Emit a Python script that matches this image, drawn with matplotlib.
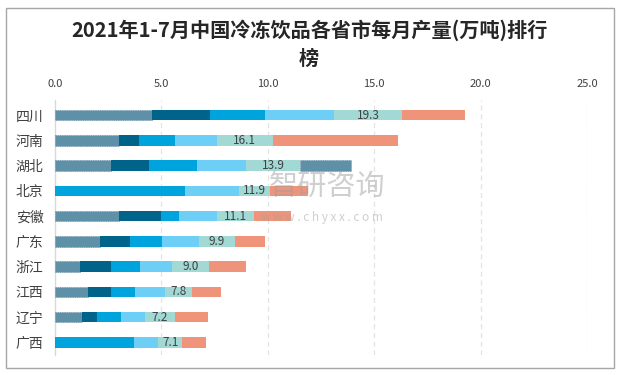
import matplotlib
matplotlib.use("Agg")
import matplotlib.pyplot as plt
from matplotlib.patches import Rectangle
import numpy as np

plt.rcParams['font.family'] = ['Noto Sans CJK SC', 'DejaVu Sans']

provinces = ["四川", "河南", "湖北", "北京", "安徽", "广东", "浙江", "江西", "辽宁", "广西"]
seg1 = [4.58, 3.03, 2.66, 0.00, 3.03, 2.14, 1.19, 1.57, 1.29, 0.00]
seg2 = [2.70, 0.95, 1.79, 0.00, 1.98, 1.41, 1.47, 1.09, 0.71, 0.00]
seg3 = [2.59, 1.65, 2.22, 6.10, 0.81, 1.51, 1.36, 1.13, 1.13, 3.74]
seg4 = [3.26, 1.98, 2.31, 2.55, 1.79, 1.70, 1.51, 1.37, 1.13, 1.13]
seg5 = [3.16, 2.64, 2.54, 1.46, 1.74, 1.70, 1.70, 1.28, 1.37, 1.13]
seg6 = [2.97, 5.85, 0.00, 1.79, 1.73, 1.41, 1.75, 1.36, 1.55, 1.10]
seg7 = [0.00, 0.00, 2.40, 0.00, 0.00, 0.00, 0.00, 0.00, 0.00, 0.00]
xticks = [0, 5, 10, 15, 20, 25]

series = [seg1, seg2, seg3, seg4, seg5, seg6, seg7]
colors = ['#5e91a8', '#006389', '#00a4dc', '#6dcff5', '#a3d9d5', '#ef937a', '#5e91a8']

fig = plt.figure(figsize=(6.18, 3.75), dpi=100)
fig.patch.set_facecolor('white')
fig.add_artist(Rectangle((6/618, 1-368/375), 608/618, 360/375, transform=fig.transFigure,
                         fill=False, edgecolor='#a6a6a6', linewidth=1.0))

ax = fig.add_axes([54.7/618, 1-355/375, (587-54.7)/618, 255/375])
y = np.arange(len(provinces))
left = np.zeros(len(provinces))
h = 0.42
totals = np.sum(np.array(series), axis=0)
for i, (vals, c) in enumerate(zip(series, colors)):
    vals = np.array(vals)
    nz = vals > 0
    if i in (0, 6):
        ax.barh(y[nz], vals[nz], left=left[nz], height=h, color=c, edgecolor='#55869c',
                linewidth=0.4, linestyle=(0, (2, 2)), zorder=3)
    else:
        ax.barh(y[nz], vals[nz], left=left[nz], height=h, color=c, linewidth=0, zorder=3)
    if i == 4:
        for yi, (l, v, t) in enumerate(zip(left, vals, totals)):
            ax.text(l + v / 2, yi, f"{t:.1f}", ha='center', va='center',
                    fontsize=8.5, color='#404040', zorder=5)
    left = left + vals

ax.set_xlim(0, 25)
ax.set_ylim(len(provinces) - 0.5, -0.6)
ax.set_xticks(xticks)
ax.set_xticklabels([f"{v:.1f}" for v in xticks])
ax.xaxis.tick_top()
ax.tick_params(axis='x', length=0, pad=8, labelsize=8, labelcolor='#404040')
ax.set_yticks(y)
ax.set_yticklabels(provinces)
ax.tick_params(axis='y', length=0, pad=8, labelsize=10, labelcolor='#404040')
for s in ['top', 'right', 'bottom']:
    ax.spines[s].set_visible(False)
ax.spines['left'].set_color('#d9d9d9')
ax.spines['left'].set_linewidth(1.0)
for xv in xticks[1:]:
    ax.axvline(xv, color='#e3e3e3', linewidth=0.9, linestyle=(0, (4, 3)), zorder=1)

fig.text(0.5, 1-30/375, "2021年1-7月中国冷冻饮品各省市每月产量(万吨)排行", ha='center', va='center',
         fontsize=14.5, fontweight='bold', color='#262626')
fig.text(0.5, 1-58/375, "榜", ha='center', va='center',
         fontsize=14.5, fontweight='bold', color='#262626')

# watermark
fig.text(327/618, 1-187/375, "智研咨询", ha='center', va='center', fontsize=21,
         color='#a0a0a0', alpha=0.5, zorder=10)
fig.text(322/618, 1-218/375, "w w w . c h y x x . c o m", ha='center', va='center', fontsize=8.5,
         color='#a0a0a0', alpha=0.5, zorder=10)

fig.savefig("out.png", dpi=100, facecolor='white')
